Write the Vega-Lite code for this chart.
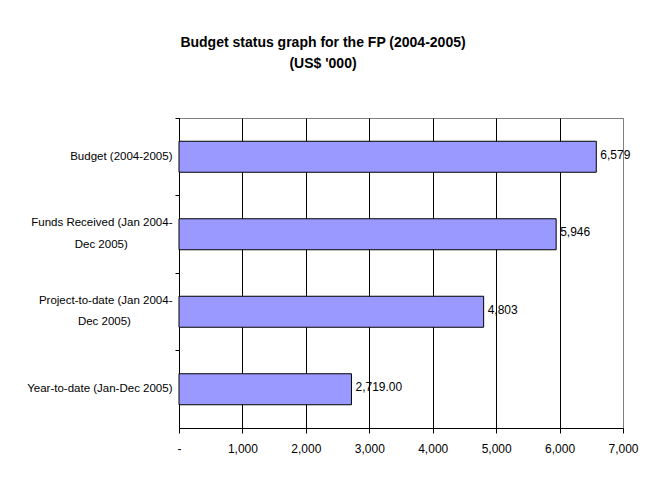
{
  "$schema": "https://vega.github.io/schema/vega-lite/v6.json",
  "width": 444,
  "height": 310,
  "autosize": "none",
  "padding": {"left": 179, "top": 118, "right": 22, "bottom": 49},
  "background": "white",
  "title": {
    "text": ["Budget status graph for the FP (2004-2005)", "(US$ '000)"],
    "font": "Liberation Sans",
    "fontSize": 14,
    "fontWeight": "bold",
    "lineHeight": 21.5,
    "color": "black",
    "anchor": "middle",
    "frame": "group",
    "dx": -78,
    "offset": 46.5
  },
  "data": {
    "values": [
      {"category": "Budget (2004-2005)", "value": 6579, "label": "6,579"},
      {"category": "Funds Received (Jan 2004-Dec 2005)", "value": 5946, "label": "5,946"},
      {"category": "Project-to-date (Jan 2004-Dec 2005)", "value": 4803, "label": "4,803"},
      {"category": "Year-to-date (Jan-Dec 2005)", "value": 2719, "label": "2,719.00"}
    ]
  },
  "encoding": {
    "y": {
      "field": "category",
      "type": "nominal",
      "sort": null,
      "scale": {"paddingInner": 0.6, "paddingOuter": 0.3},
      "axis": {
        "title": null,
        "domainColor": "black",
        "tickColor": "black",
        "tickSize": 4,
        "bandPosition": -0.75,
        "grid": false,
        "labelFont": "Liberation Sans",
        "labelFontSize": 11.5,
        "labelColor": "black",
        "labelLineHeight": 21.7,
        "labelPadding": 3,
        "labelLimit": 400,
        "labelBaseline": {"condition": {"test": "isString(datum.value) && indexof(datum.value, 'Jan 2004-') >= 0", "value": "line-bottom"}, "value": "middle"},
        "labelExpr": "isString(datum.value) && indexof(datum.value, 'Jan 2004-') >= 0 ? [slice(datum.value, 0, indexof(datum.value, 'Dec')), slice(datum.value, indexof(datum.value, 'Dec')) + (indexof(datum.value, 'Funds') >= 0 ? '\u00a0\u00a0\u00a0\u00a0\u00a0\u00a0\u00a0\u00a0\u00a0\u00a0\u00a0\u00a0\u00a0\u00a0\u200b' : '\u00a0\u00a0\u00a0\u00a0\u00a0\u00a0\u00a0\u00a0\u00a0\u00a0\u00a0\u00a0\u00a0\u200b')] : datum.label"
      }
    },
    "x": {
      "field": "value",
      "type": "quantitative",
      "scale": {"domain": [0, 7000], "nice": false},
      "axis": {
        "title": null,
        "values": [0, 1000, 2000, 3000, 4000, 5000, 6000, 7000],
        "labelExpr": "datum.value == 0 ? '-' : format(datum.value, ',')",
        "grid": true,
        "gridColor": {"condition": {"test": "datum.value == 7000", "value": "#808080"}, "value": "black"},
        "gridOpacity": 1,
        "domainColor": "black",
        "tickColor": "black",
        "tickSize": 5,
        "labelFont": "Liberation Sans",
        "labelFontSize": 12,
        "labelColor": "black",
        "labelPadding": 10,
        "labelFlush": false,
        "labelOverlap": false
      }
    }
  },
  "layer": [
    {"mark": {"type": "bar", "color": "#9999FF", "stroke": "black", "strokeWidth": 1}},
    {
      "mark": {
        "type": "text",
        "align": "left",
        "baseline": "middle",
        "dx": 4,
        "dy": -2,
        "font": "Liberation Sans",
        "fontSize": 12,
        "color": "black"
      },
      "encoding": {"text": {"field": "label"}}
    }
  ],
  "config": {
    "view": {"stroke": "#808080", "strokeWidth": 1}
  }
}
